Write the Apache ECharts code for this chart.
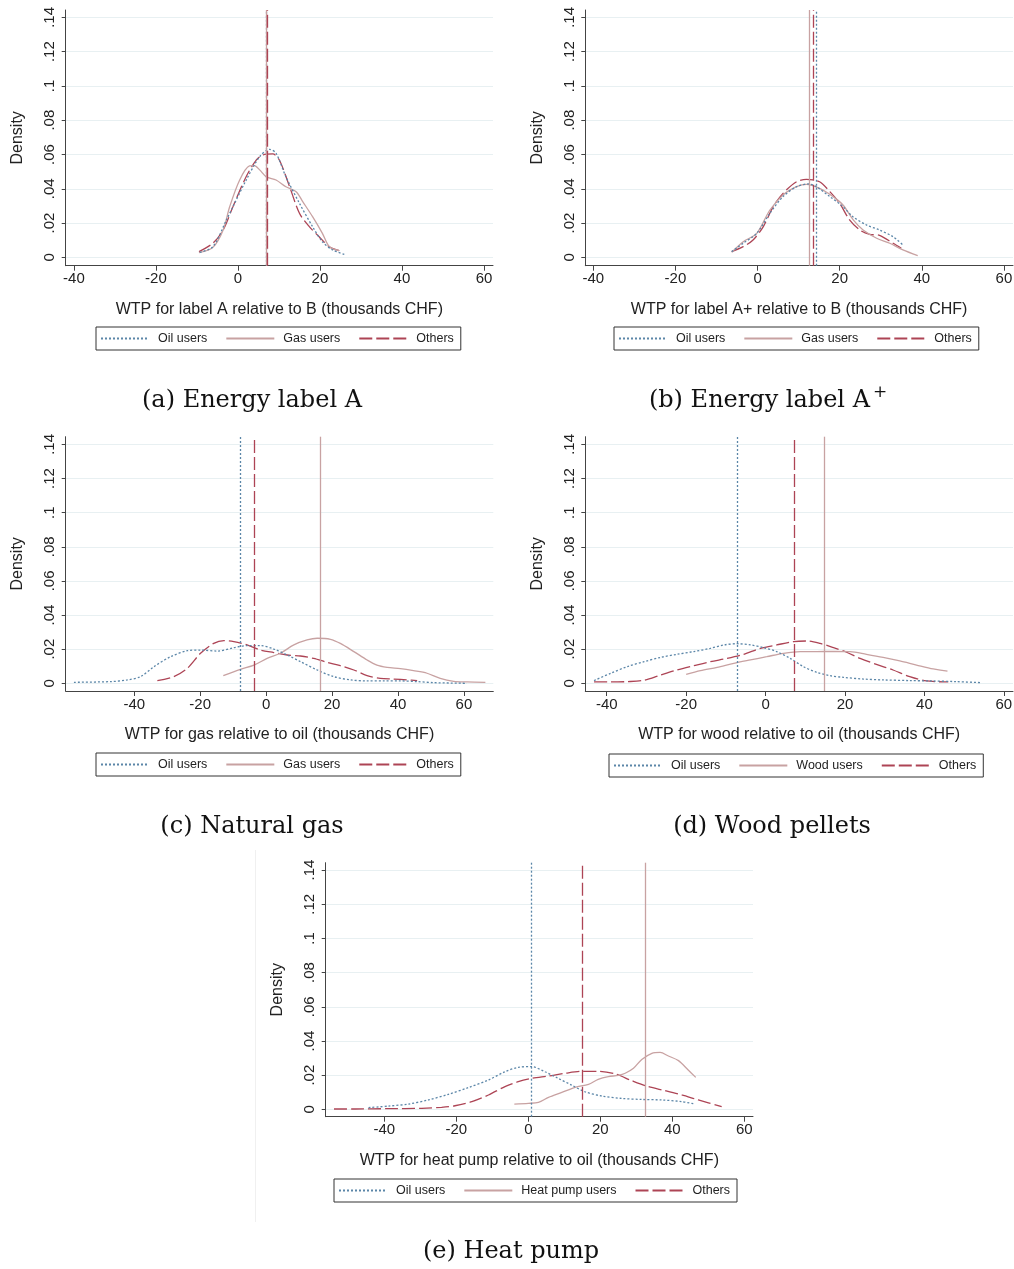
<!DOCTYPE html>
<html>
<head>
<meta charset="utf-8">
<script src="https://cdn.jsdelivr.net/npm/echarts@6/dist/echarts.min.js"></script>
<style>
html,body{margin:0;padding:0;background:#fff}
#main{width:1014px;height:1269px}
</style>
</head>
<body>
<div id="main"></div>
<script>
// tick labels
var xTicks = [-40, -20, 0, 20, 40, 60];
var yTicks = [0, .02, .04, .06, .08, .1, .12, .14];

var xTitles = [
  'WTP for label A relative to B (thousands CHF)',
  'WTP for label A+ relative to B (thousands CHF)',
  'WTP for gas relative to oil (thousands CHF)',
  'WTP for wood relative to oil (thousands CHF)',
  'WTP for heat pump relative to oil (thousands CHF)'
];
var groupNames = [
  ['Oil users', 'Gas users', 'Others'],
  ['Oil users', 'Gas users', 'Others'],
  ['Oil users', 'Gas users', 'Others'],
  ['Oil users', 'Wood users', 'Others'],
  ['Oil users', 'Heat pump users', 'Others']
];

// densities [WTP, density] -- (a) label A
var oilA = [[-9.3,.0029],[-6.1,.0062],[-2.8,.0218],[-1.2,.0296],[2,.045],[5.3,.0587],[7.7,.063],[9.3,.0607],[11.7,.047],[15,.0315],[18.2,.0179],[20.6,.0091],[23.1,.0043],[26.3,.0014]];
var gasA = [[-9.5,.0027],[-6.1,.0058],[-3.6,.016],[-2,.0296],[0.4,.045],[2.8,.0533],[4,.0535],[5.3,.051],[6.9,.047],[9.3,.0451],[11.7,.0412],[14.2,.0383],[15.8,.0325],[18.2,.0237],[20.6,.014],[22.3,.0062],[24.7,.0039]];
var othA = [[-9.5,.0033],[-6.1,.0082],[-3.6,.016],[-1.2,.0296],[2,.047],[4.5,.0568],[6.1,.0597],[8.5,.0603],[10.1,.0568],[12.6,.0412],[15,.0257],[17.4,.0179],[19.8,.012],[22.3,.0062],[24.7,.0039]];
// (b) label A+
var oilB = [[-6.3,.0033],[-3.5,.0082],[-0.2,.014],[3,.0257],[6.2,.0354],[9.5,.0412],[12.3,.0428],[14.3,.0412],[17.6,.0354],[20.8,.0296],[23.2,.0237],[26.5,.0189],[29.7,.0159],[33,.012],[35.4,.0072]];
var gasB = [[-6.3,.0029],[-3.5,.0091],[-0.2,.014],[3,.0276],[6.2,.0364],[9.5,.0412],[11.9,.0426],[15.1,.0402],[18.4,.0354],[20.8,.0305],[23.3,.0218],[25.7,.0159],[29,.0111],[32.2,.0082],[35.4,.0043],[39,.001]];
var othB = [[-6.3,.0033],[-3.5,.0062],[-1.1,.0101],[1.4,.0179],[3.8,.0296],[6.2,.0373],[9.5,.0441],[11.9,.0455],[15.1,.0441],[17.6,.0383],[20,.0315],[22.4,.0218],[24.9,.0159],[27.3,.0134],[29.7,.0128],[33,.0082],[35,.0053]];
// (c) natural gas
var oilC = [[-58.3,.0006],[-47.2,.001],[-42.1,.002],[-38.1,.0039],[-34,.0098],[-29,.0156],[-23.9,.0191],[-19.9,.0195],[-14.8,.0189],[-9.8,.0209],[-5.8,.0221],[-1.7,.0221],[2.3,.0201],[6.4,.0166],[10.4,.0127],[15.5,.0078],[20.5,.0039],[25.6,.002],[30.6,.0014],[35.7,.0014],[40.7,.0014],[45.8,.001],[50.8,.0004],[60.9,0]];
var gasC = [[-13,.0045],[-7.8,.0082],[-3.7,.0107],[0.3,.0146],[4.3,.0176],[8.4,.0225],[12.4,.0254],[15.5,.0264],[19.5,.0258],[22.5,.0234],[26.6,.0186],[30.6,.0137],[33.6,.0107],[36.7,.0094],[40.7,.0086],[44.7,.0074],[48.8,.0059],[52.8,.0029],[56.9,.0012],[60.9,.0008],[66.5,.0006]];
var othC = [[-33,.0016],[-28,.0039],[-23.9,.0088],[-19.9,.0176],[-15.9,.0234],[-12.8,.025],[-9.8,.0244],[-5.8,.0225],[-1.7,.0195],[2.3,.018],[6.4,.0166],[10.4,.016],[14.4,.0146],[18.5,.0123],[22.5,.0103],[26.6,.0078],[30.6,.0045],[34.6,.0029],[38.7,.0025],[42.7,.002],[45.8,.0016]];
// (d) wood pellets
var oilD = [[-43.2,.0016],[-39,.0059],[-34.8,.0098],[-30.6,.0127],[-26.4,.0152],[-22.3,.017],[-18.1,.0186],[-13.9,.0205],[-10.5,.0225],[-7.2,.0232],[-3.8,.0225],[-0.5,.0209],[2.8,.0186],[6.2,.0146],[9.5,.0098],[12.9,.0064],[16.2,.0045],[19.6,.0035],[24.6,.0025],[29.6,.002],[36.3,.0016],[41.3,.0014],[48,.001],[54.3,.0004]];
var woodD = [[-20,.0053],[-16.4,.0074],[-12.2,.0094],[-8,.0117],[-3.8,.0137],[0.3,.0156],[4.5,.0176],[8.7,.0186],[12.9,.0186],[17.1,.0187],[21.3,.0186],[25.4,.017],[29.6,.0152],[33.8,.0131],[38,.0107],[42.2,.0084],[45.8,.0072]];
var othD = [[-43.2,.0008],[-39,.0008],[-34.8,.001],[-30.6,.0018],[-26.4,.0049],[-22.3,.0078],[-18.1,.0103],[-13.9,.0127],[-9.7,.0146],[-5.5,.017],[-1.3,.0205],[2.8,.0225],[7,.0244],[10.4,.0248],[13.7,.0234],[17.1,.0209],[20.4,.0182],[23.8,.0146],[27.9,.0111],[32.1,.0078],[36.3,.0039],[40.5,.0014],[46,.0008]];
// (e) heat pump
var oilE = [[-44.4,.001],[-38.9,.0019],[-33.3,.0031],[-27.8,.0055],[-22.2,.0088],[-16.7,.0127],[-11.1,.0172],[-6.5,.022],[-2.8,.0246],[0.9,.025],[4.6,.022],[8.3,.0181],[12,.0142],[15.7,.0103],[20.4,.0078],[25.9,.0064],[31.5,.0058],[37,.0055],[42.6,.0045],[46.3,.0031]];
var hpE = [[-3.9,.0031],[0,.0035],[2.8,.0041],[5.6,.007],[9.3,.0099],[13,.0129],[16.7,.0146],[19.4,.0175],[22.2,.0191],[25,.0199],[26.9,.0211],[29.2,.024],[31.5,.0292],[34.3,.0328],[36.6,.0333],[38.9,.0312],[41.7,.0285],[44.4,.023],[46.5,.0187]];
var othE = [[-54,.0002],[-48.1,.0002],[-38.9,.0004],[-29.6,.0006],[-24.1,.0012],[-20.4,.0021],[-15.7,.0045],[-11.1,.0084],[-6.5,.0133],[-2.8,.0162],[0.9,.0181],[5.6,.0195],[10.2,.0211],[14.8,.0222],[19.4,.0222],[24.1,.0207],[28.7,.0168],[33.3,.0133],[38,.0109],[42.6,.0084],[47.2,.0055],[53.7,.0016]];

// group means (oil, own, others)
var meansA = [6.9, 7.0, 7.05];
var meansB = [14.2, 12.7, 13.5];
var meansC = [-7.9, 16.4, -3.5];
var meansD = [-7.2, 14.7, 7.2];
var meansE = [0.74, 32.6, 15.0];

var curves = [[oilA, gasA, othA], [oilB, gasB, othB], [oilC, gasC, othC], [oilD, woodD, othD], [oilE, hpE, othE]];
var means = [meansA, meansB, meansC, meansD, meansE];

// layout
var panels = [
  {left: 65.7, top: 10, width: 427.3, height: 255.7, xmin: -42, xmax: 62.2, ymin: -.0049, ymax: .1443, lx: 96, ly: 327},
  {left: 585.3, top: 10, width: 427.7, height: 255.7, xmin: -41.95, xmax: 62.2, ymin: -.0049, ymax: .1443, lx: 614, ly: 327},
  {left: 65.7, top: 436.7, width: 427.6, height: 254.3, xmin: -60.8, xmax: 68.9, ymin: -.0045, ymax: .1445, lx: 96, ly: 753},
  {left: 585.3, top: 436.7, width: 427.7, height: 254.3, xmin: -45.4, xmax: 62.3, ymin: -.0045, ymax: .1445, lx: 609, ly: 754},
  {left: 325.7, top: 862.7, width: 427.3, height: 254, xmin: -56.3, xmax: 62.4, ymin: -.0043, ymax: .1443, lx: 334, ly: 1179}
];
var lineCols = ['#5b86a8', '#c8a2a2', '#ad4455'];
var lineTypes = [[2, 2], 'solid', [13, 4]];
var FONT = 'Liberation Sans, Arial, sans-serif';
var AX = '#444';

var myChart = echarts.init(document.getElementById('main'));

var grids = [], xAxes = [], yAxes = [], series = [], legends = [];
panels.forEach(function (p, i) {
  grids.push({left: p.left, top: p.top, width: p.width, height: p.height, outerBoundsMode: 'none', containLabel: false});
  xAxes.push({
    gridIndex: i, type: 'value', min: p.xmin, max: p.xmax,
    name: xTitles[i], nameLocation: 'middle', nameGap: 36,
    nameTextStyle: {fontFamily: FONT, fontSize: 16, color: '#222'},
    axisLine: {show: true, onZero: false, lineStyle: {color: AX, width: 1}},
    axisTick: {show: true, length: 5, customValues: xTicks, lineStyle: {color: AX}},
    axisLabel: {customValues: xTicks, fontFamily: FONT, fontSize: 15, color: '#222', margin: 6},
    splitLine: {show: false}
  });
  yAxes.push({
    gridIndex: i, type: 'value', min: p.ymin, max: p.ymax,
    name: 'Density', nameLocation: 'middle', nameGap: 40,
    nameTextStyle: {fontFamily: FONT, fontSize: 16, color: '#222'},
    axisLine: {show: true, onZero: false, lineStyle: {color: AX, width: 1}},
    axisTick: {show: true, length: 4, customValues: yTicks, lineStyle: {color: AX}},
    axisLabel: {
      customValues: yTicks, rotate: 90, margin: 8, fontFamily: FONT, fontSize: 15, color: '#222',
      formatter: function (v) { return v === 0 ? '0' : String(+v.toFixed(2)).replace(/^0/, ''); }
    },
    splitLine: {show: true, lineStyle: {color: '#e8f0f2', width: 1}}
  });
  groupNames[i].forEach(function (nm, j) {
    series.push({
      name: nm, type: 'line', xAxisIndex: i, yAxisIndex: i,
      data: curves[i][j], smooth: 0.3, symbol: 'none', showSymbol: false,
      lineStyle: {color: lineCols[j], width: 1.3, type: lineTypes[j]},
      itemStyle: {color: lineCols[j]},
      markLine: {
        silent: true, symbol: ['none', 'none'], label: {show: false},
        lineStyle: {color: lineCols[j], width: 1.3, type: lineTypes[j]},
        emphasis: {disabled: true},
        data: [{xAxis: means[i][j]}]
      },
      z: 3 - j
    });
  });
  legends.push({
    left: p.lx, top: p.ly, orient: 'horizontal', data: groupNames[i],
    selectedMode: false, itemWidth: 48, itemHeight: 12, itemGap: 18,
    itemStyle: {opacity: 0},
    padding: [5, 7, 5, 4], borderColor: '#333', borderWidth: 1,
    textStyle: {fontFamily: FONT, fontSize: 12.5, color: '#222', padding: [0, 0, 0, 4]}
  });
});

var SERIF = 'DejaVu Serif, serif';
function caption(x, y, t) {
  return {type: 'text', x: x, y: y,
    style: {text: t, font: '24px ' + SERIF, fill: '#111', align: 'center', verticalAlign: 'middle'}};
}

option = {
  animation: false,
  backgroundColor: '#fff',
  grid: grids, xAxis: xAxes, yAxis: yAxes, series: series, legend: legends,
  graphic: [
    caption(252, 401, '(a) Energy label A'),
    {type: 'text', x: 870, y: 401, style: {text: '(b) Energy label A', font: '24px ' + SERIF, fill: '#111', align: 'right', verticalAlign: 'middle'}},
    {type: 'text', x: 873, y: 393, style: {text: '+', font: '17px ' + SERIF, fill: '#111', align: 'left', verticalAlign: 'middle'}},
    caption(252, 827, '(c) Natural gas'),
    caption(772, 827, '(d) Wood pellets'),
    caption(511, 1252, '(e) Heat pump'),
    {type: 'line', shape: {x1: 255.5, y1: 850, x2: 255.5, y2: 1222}, style: {stroke: '#f0f0f0', lineWidth: 1}}
  ]
};

myChart.setOption(option);
window.onresize = myChart.resize;
</script>
</body>
</html>
